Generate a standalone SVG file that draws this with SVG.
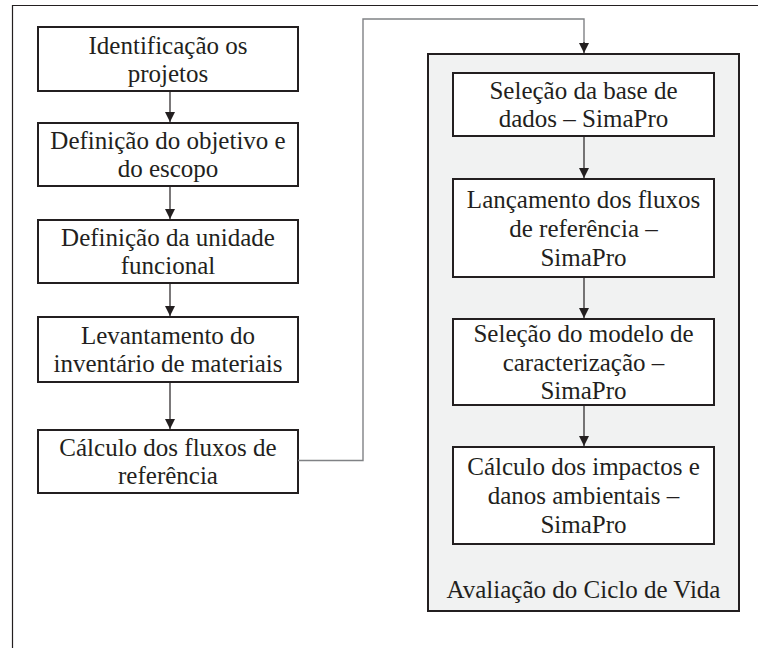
<svg xmlns="http://www.w3.org/2000/svg" width="758" height="648" viewBox="0 0 758 648">
<style>
.box{fill:#ffffff;stroke:#231f20;stroke-width:2}
.cont{fill:#f1f2f2;stroke:#231f20;stroke-width:2}
text{font-family:'Liberation Serif','DejaVu Serif',serif;font-size:25px;fill:#231f20;text-anchor:middle}
.ln{fill:none;stroke:#231f20;stroke-width:1.2}
.gl{fill:none;stroke:#808285;stroke-width:1.4}
.frame{fill:none;stroke:#231f20;stroke-width:1.2}
</style>
<defs>
<marker id="ah" markerWidth="10" markerHeight="10" refX="10" refY="5" orient="auto" markerUnits="userSpaceOnUse">
<path d="M0,0 L10,5 L0,10 Z" fill="#231f20"/>
</marker>
</defs>
<rect width="758" height="648" fill="#ffffff"/>
<path class="frame" d="M12.5,648 V5.5 H758"/>
<g font-family="Liberation Serif, DejaVu Serif, serif">
<g id="avaliacao">
<rect class="cont" x="428" y="54" width="311" height="557"/>
<text x="583.5" y="597.5">Avaliação do Ciclo de Vida</text>
</g>
<g id="n1"><rect class="box" x="38" y="27" width="260" height="64"/>
<text x="168" y="53.5">Identificação os</text><text x="168" y="81.5">projetos</text></g>
<g id="n2"><rect class="box" x="38" y="123" width="260" height="63"/>
<text x="168" y="149">Definição do objetivo e</text><text x="168" y="177">do escopo</text></g>
<g id="n3"><rect class="box" x="38" y="220" width="260" height="63"/>
<text x="168" y="246">Definição da unidade</text><text x="168" y="274">funcional</text></g>
<g id="n4"><rect class="box" x="38" y="317" width="260" height="65"/>
<text x="168" y="344">Levantamento do</text><text x="168" y="372">inventário de materiais</text></g>
<g id="n5"><rect class="box" x="38" y="430" width="260" height="63"/>
<text x="168" y="456">Cálculo dos fluxos de</text><text x="168" y="484">referência</text></g>
<g id="a1"><rect class="box" x="453" y="73" width="261" height="63"/>
<text x="583.5" y="99">Seleção da base de</text><text x="583.5" y="127">dados – SimaPro</text></g>
<g id="a2"><rect class="box" x="453" y="179" width="261" height="98"/>
<text x="583.5" y="208">Lançamento dos fluxos</text><text x="583.5" y="237">de referência –</text><text x="583.5" y="266">SimaPro</text></g>
<g id="a3"><rect class="box" x="453" y="319" width="261" height="86"/>
<text x="583.5" y="342">Seleção do modelo de</text><text x="583.5" y="370.5">caracterização –</text><text x="583.5" y="399">SimaPro</text></g>
<g id="a4"><rect class="box" x="453" y="447" width="261" height="97"/>
<text x="583.5" y="474.5">Cálculo dos impactos e</text><text x="583.5" y="503.5">danos ambientais –</text><text x="583.5" y="532.5">SimaPro</text></g>
</g>
<g id="connectors">
<path class="ln" d="M170,91 V122" marker-end="url(#ah)"/>
<path class="ln" d="M170,186 V219" marker-end="url(#ah)"/>
<path class="ln" d="M170,283 V316" marker-end="url(#ah)"/>
<path class="ln" d="M170,382 V429" marker-end="url(#ah)"/>
<path class="gl" d="M298,460.5 H363 V19 H584 V44"/>
<path class="ln" d="M584,42 V53" marker-end="url(#ah)"/>
<path class="ln" d="M584,136 V178" marker-end="url(#ah)"/>
<path class="ln" d="M584,277 V318" marker-end="url(#ah)"/>
<path class="ln" d="M584,405 V446" marker-end="url(#ah)"/>
</g>
</svg>
